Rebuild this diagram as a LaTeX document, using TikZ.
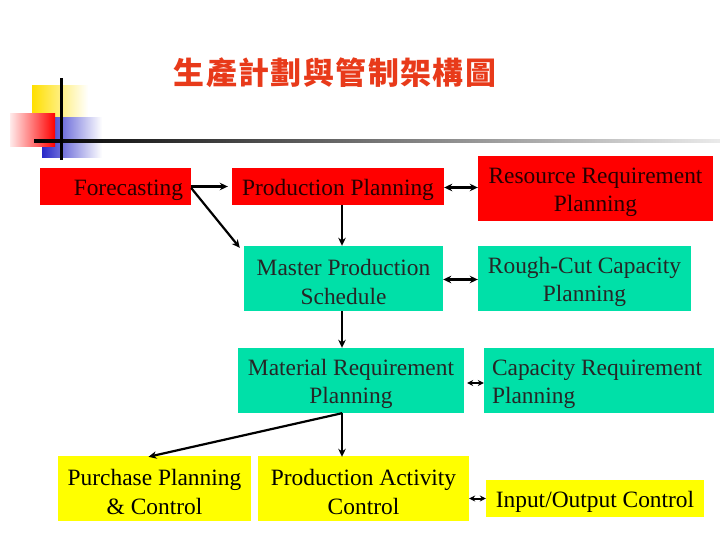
\documentclass[tikz,border=0pt]{standalone}
\usepackage{fontspec}
\setmainfont{Liberation Serif}
\newfontfamily\cjk{Noto Sans CJK TC}
\usetikzlibrary{arrows.meta}
\definecolor{boxred}{RGB}{255,0,0}
\definecolor{boxgreen}{RGB}{0,224,168}
\definecolor{boxyellow}{RGB}{255,255,0}
\definecolor{titlered}{RGB}{232,58,26}
\definecolor{decoblue}{RGB}{40,40,200}
\newcommand{\topstrut}{\rule{0pt}{23bp}}
\tikzset{
  box/.style={inner sep=0pt, align=center, font=\fontsize{23.5}{28.5}\selectfont},
  redbox/.style={box, fill=boxred, text=black!85!red},
  greenbox/.style={box, fill=boxgreen, text=black!85},
  yellowbox/.style={box, fill=boxyellow, text=black},
  tip/.tip={Stealth[length=8bp,width=7.5bp,inset=2.5bp]},
  stip/.tip={Stealth[length=6bp,width=6bp,inset=2bp]},
  arr/.style={line width=2.2bp, -tip},
  darr/.style={line width=2.2bp, tip-tip},
  sdarr/.style={line width=2bp, stip-stip}
}
\begin{document}
\begin{tikzpicture}[x=1bp,y=-1bp]
\useasboundingbox (0,0) rectangle (720,540);
% decoration
\shade[left color=boxyellow!75!orange, right color=white] (32,86) rectangle (88,118);
\shade[left color=decoblue, right color=white] (42,118) rectangle (102,158);
\shade[left color=red!8, right color=red] (10,114) rectangle (55,147);
\shade[left color=black, right color=black!8] (34,140) rectangle (720,142.2);
\fill[black] (59.7,78) rectangle (62.5,160);
% title
\node[text=titlered, font=\cjk\bfseries\fontsize{31}{34}\selectfont] (title) at (335,73) {生\kern1.5bp 產\kern1.5bp 計\kern1.5bp 劃\kern1.5bp 與\kern1.5bp 管\kern1.5bp 制\kern1.5bp 架\kern1.5bp 構\kern1.5bp 圖};
% boxes
\node[redbox, minimum width=151bp, minimum height=37bp, text width=135bp, align=flush right] (fc) at (115.5,186.5) {\topstrut Forecasting};
\node[redbox, minimum width=212bp, minimum height=37bp] (pp) at (338,186.5) {\topstrut Production Planning};
\node[redbox, minimum width=235bp, minimum height=65bp] (rrp) at (595.5,188.5) {\topstrut Resource Requirement\\Planning};
\node[greenbox, minimum width=199bp, minimum height=65bp] (mps) at (343.5,278.5) {\topstrut Master Production\\Schedule};
\node[greenbox, minimum width=213bp, minimum height=65bp] (rccp) at (584.5,278.5) {\topstrut Rough-Cut Capacity\\Planning};
\node[greenbox, minimum width=226bp, minimum height=65bp] (mrp) at (351,380.5) {\topstrut Material Requirement\\Planning};
\node[greenbox, minimum width=230bp, minimum height=65bp, text width=214bp, align=flush left] (crp) at (599,380.5) {\topstrut Capacity Requirement\\Planning};
\node[yellowbox, minimum width=193bp, minimum height=65bp] (ppc) at (154.5,488.5) {\topstrut Purchase Planning\\\& Control};
\node[yellowbox, minimum width=211bp, minimum height=65bp] (pac) at (363.5,488.5) {\topstrut Production Activity\\Control};
\node[yellowbox, minimum width=218bp, minimum height=37bp] (io) at (595,498.5) {\topstrut Input/Output Control};
% connectors
\draw[arr, shorten >=4bp] (fc.east) -- (pp.west);
\draw[arr] ([yshift=-1.5bp]fc.east) -- ([xshift=-4bp,yshift=-2bp]mps.north west);
\draw[arr] ([xshift=4bp]pp.south) -- ([xshift=4bp]pp.south |- mps.north);
\draw[arr] ([xshift=-1.5bp]mps.south) -- ([xshift=-1.5bp]mps.south |- mrp.north);
\draw[arr] ([xshift=-9bp]mrp.south) -- ([xshift=-9bp,yshift=-1bp]mrp.south |- pac.north);
\draw[arr] ([xshift=-9bp]mrp.south) -- ([xshift=-6bp,yshift=-1bp]ppc.north);
\draw[darr] ([yshift=-1bp]pp.east) -- ([yshift=-1bp]pp.east -| rrp.west);
\draw[darr] ([yshift=-1bp]mps.east) -- ([yshift=-1bp]mps.east -| rccp.west);
\draw[sdarr, shorten <=3bp] ([yshift=-2.5bp]mrp.east) -- ([yshift=-2.5bp]mrp.east -| crp.west);
\draw[sdarr] (pac.east |- io.west) -- (io.west);
\end{tikzpicture}
\end{document}
